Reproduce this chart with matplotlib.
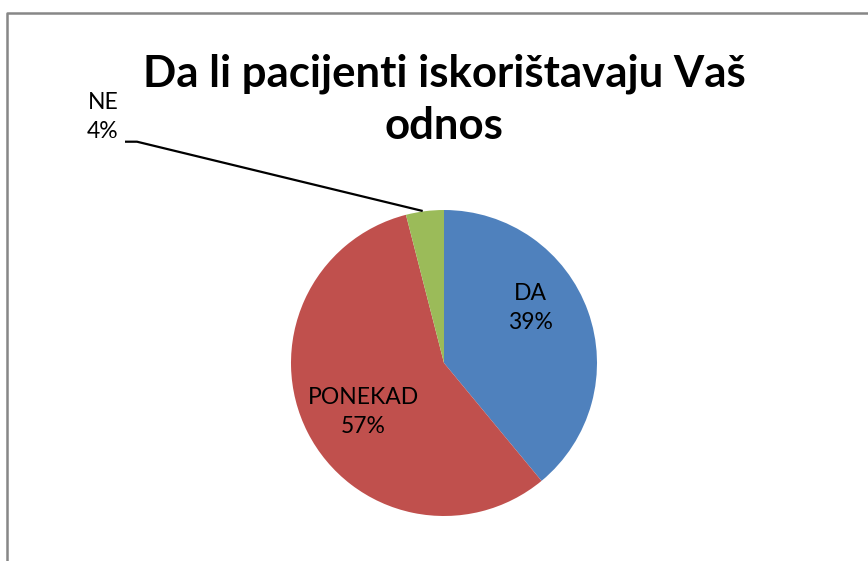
import matplotlib
matplotlib.use("Agg")
import matplotlib.pyplot as plt
from matplotlib.lines import Line2D

categories = ["DA", "PONEKAD", "NE"]
values = [39, 57, 4]
colors = ["#4F81BD", "#C0504D", "#9BBB59"]
title = "Da li pacijenti iskorištavaju Vaš\nodnos"

W, H = 868, 561
fig = plt.figure(figsize=(W / 100, H / 100), dpi=100)
fig.patch.set_facecolor("white")
ax = fig.add_axes([0, 0, 1, 1])

cx, cy, r = 444, H - 363, 153
wedges, _ = ax.pie(values, colors=colors, startangle=90, counterclock=False,
                   center=(cx, cy), radius=r, frame=True,
                   wedgeprops=dict(linewidth=0))
ax.set_xlim(0, W)
ax.set_ylim(0, H)
ax.set_aspect("auto")
ax.axis("off")

font = "Lato"
lab_fs = 16.5
ls = 1.5

def pct(v):
    return f"{round(100 * v / sum(values))}%"

# inside labels
ax.text(530, H - 308, f"{categories[0]}\n{pct(values[0])}", ha="center", va="center",
        fontsize=lab_fs, family=font, linespacing=ls, color="black")
ax.text(363, H - 412, f"{categories[1]}\n{pct(values[1])}", ha="center", va="center",
        fontsize=lab_fs, family=font, linespacing=ls, color="black")
# outside label with leader
ax.text(103, H - 117, f"{categories[2]}\n{pct(values[2])}", ha="center", va="center",
        fontsize=lab_fs, family=font, linespacing=ls, color="black")
ax.plot([125, 137, 422.7], [H - 141.7, H - 141.7, H - 211], color="black", lw=1.6,
        solid_capstyle="butt")

ax.text(444, H - 100, title, ha="center", va="center", fontsize=31.5, fontweight="bold",
        family="Lato", linespacing=1.35)

# chart border (left and top)
fig.add_artist(Line2D([6.5 / W, 6.5 / W, 1.0], [0, 1 - 13 / H, 1 - 13 / H],
                      transform=fig.transFigure, color="#878787", lw=1.8))

fig.savefig("out.png", dpi=100, facecolor="white")
